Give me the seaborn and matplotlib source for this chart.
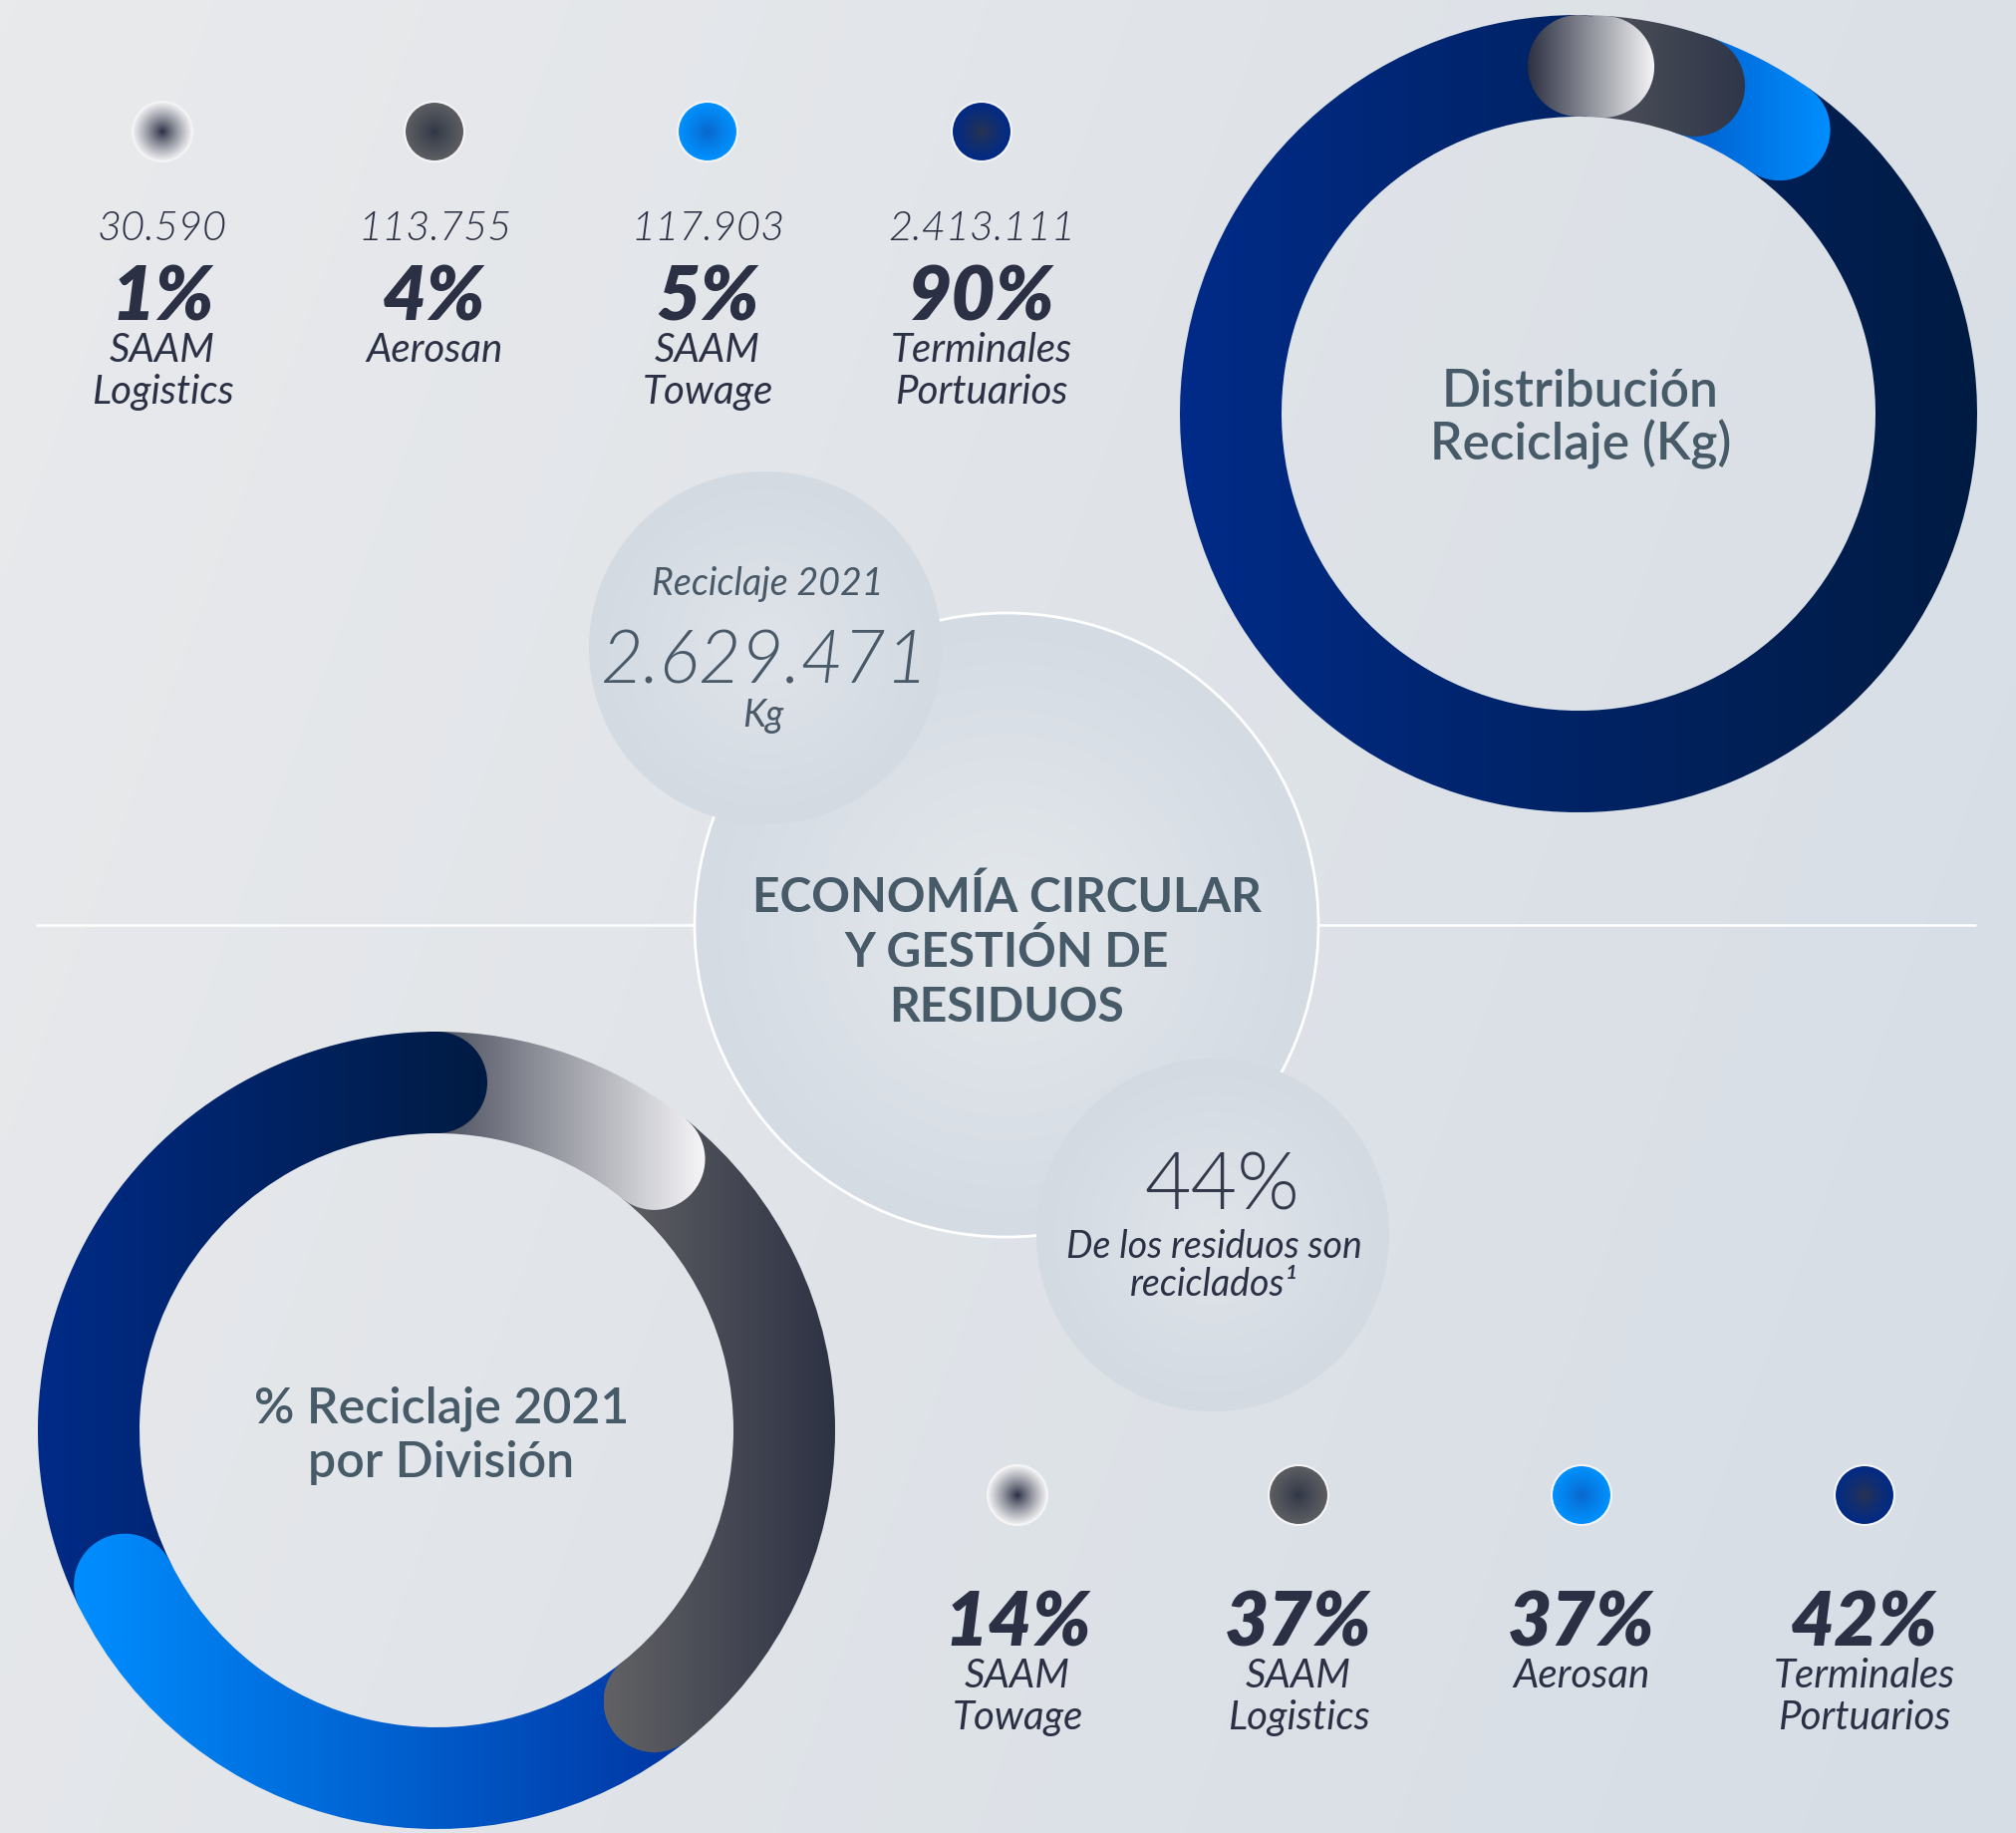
import numpy as np
import matplotlib
matplotlib.use("Agg")
import matplotlib.pyplot as plt
from matplotlib.patches import Wedge, Circle
import seaborn as sns

top_labels = ["SAAM\nLogistics", "Aerosan", "SAAM\nTowage", "Terminales\nPortuarios"]
top_kg = [30590, 113755, 117903, 2413111]
top_pct = [1, 4, 5, 90]

bottom_labels = ["SAAM\nTowage", "SAAM\nLogistics", "Aerosan", "Terminales\nPortuarios"]
bottom_pct = [14, 37, 37, 42]

total_kg = 2629471
recycled_pct = 44

# gradient stops (left colour, right colour) for each arc, same order as the data
top_arc_cols = [("#2c3041", "#f6f6f8"), ("#58595e", "#2f3649"),
                ("#0052c0", "#008eff"), ("#002b88", "#001b42")]
bottom_arc_cols = [("#2c3041", "#f6f6f8"), ("#626265", "#2d3244"),
                   ("#008eff", "#0033a0"), ("#002b88", "#001b42")]
# legend dots (centre colour, edge colour)
dot_cols = [("#262b40", "#f2f2f4"), ("#303646", "#5d5f63"),
            ("#0a66cc", "#0092ff"), ("#283350", "#002a88")]

NAVY = "#2b3044"
SLATE = "#465a68"

W, H = 2023, 1839
sns.set_style("white")
plt.rcParams["font.family"] = ["Lato", "DejaVu Sans"]

fig = plt.figure(figsize=(W / 100, H / 100), dpi=100)
ax = fig.add_axes([0, 0, 1, 1])

# background
yy, xx = np.mgrid[0:1:200j, 0:1:220j]
bg_cmap = sns.blend_palette(["#e9eaec", "#d6dde5"], as_cmap=True)
ax.imshow(0.75 * xx + 0.25 * yy, cmap=bg_cmap, extent=(0, W, H, 0),
          zorder=0, interpolation="bilinear", aspect="auto")


def grad_fill(patch, x0, x1, y0, y1, c0, c1, z):
    cmap = sns.blend_palette([c0, c1], as_cmap=True)
    patch.set_facecolor("none")
    patch.set_edgecolor("none")
    ax.add_patch(patch)
    im = ax.imshow(np.linspace(0, 1, 256)[None, :], cmap=cmap, extent=(x0, x1, y1, y0),
                   aspect="auto", zorder=z, interpolation="bilinear")
    im.set_clip_path(patch)


def radial_fill(cx, cy, r, c0, c1, z, power=1.0):
    n = 151
    gy, gx = np.mgrid[-1:1:n * 1j, -1:1:n * 1j]
    d = np.clip(np.hypot(gx, gy), 0, 1) ** power
    cmap = sns.blend_palette([c0, c1], as_cmap=True)
    circ = Circle((cx, cy), r, facecolor="none", edgecolor="none")
    ax.add_patch(circ)
    im = ax.imshow(d, cmap=cmap, vmin=0, vmax=1, extent=(cx - r, cx + r, cy + r, cy - r),
                   aspect="auto", zorder=z, interpolation="bilinear")
    im.set_clip_path(circ)


def donut(cx, cy, values, cols, r_out=400, width=102, start_cap=False):
    frac = np.array(values, dtype=float) / np.sum(values)
    edges = np.concatenate([[0], np.cumsum(frac)]) * 360
    rm = r_out - width / 2
    segs = []
    for i in range(len(values)):
        a0, a1 = edges[i], edges[i + 1]
        phi = np.radians(np.linspace(a0, a1, 300))
        xs = cx + rm * np.sin(phi)
        segs.append((a0, a1, xs.min() - width / 2, xs.max() + width / 2))
    # bands (angles clockwise from 12 o'clock; y axis points down)
    for i, (a0, a1, x0, x1) in enumerate(segs):
        w = Wedge((cx, cy), r_out, a0 - 90, a1 - 90, width=width)
        grad_fill(w, x0, x1, cy - r_out, cy + r_out, *cols[i], z=2)
    # rounded ends, last segment first so each end sits over the next arc
    for i in reversed(range(len(segs))):
        a0, a1, x0, x1 = segs[i]
        ends = [a1] + ([a0] if (start_cap and i == 0) else [])
        for a in ends:
            ex = cx + rm * np.sin(np.radians(a))
            ey = cy - rm * np.cos(np.radians(a))
            grad_fill(Circle((ex, ey), width / 2), x0, x1, cy - r_out, cy + r_out, *cols[i], z=3)


def fmt(v):
    return f"{v:,}".replace(",", ".")


def label_lines(x, y, s, gap=42, **kw):
    for k, line in enumerate(s.split("\n")):
        ax.text(x, y + k * gap, line, ha="center", va="baseline", **kw)


# divider line and central circles
ax.plot([36, 1983], [928, 928], color="white", lw=1.8, zorder=1, solid_capstyle="butt")
radial_fill(1010, 928, 313, "#e4e8ec", "#d4dbe3", z=1.5)
ax.add_patch(Circle((1010, 928), 313, facecolor="none", edgecolor="white", lw=2, zorder=1.6))
radial_fill(768, 650, 177, "#dfe4e9", "#d3dae2", z=1.7)
radial_fill(1217, 1239, 177, "#dfe4e9", "#d3dae2", z=1.7)

# donuts
donut(1584, 415, top_kg, top_arc_cols, start_cap=True)
donut(438, 1435, bottom_pct, bottom_arc_cols)

# top legend
top_x = [163, 436, 710, 985]
for i, x in enumerate(top_x):
    radial_fill(x, 132, 30, *dot_cols[i], z=5, power=0.85)
    ax.add_patch(Circle((x, 132), 30, facecolor="none", edgecolor="#f4f4f6", lw=1.5, zorder=6))
    ax.text(x, 241, fmt(top_kg[i]), ha="center", va="baseline", fontsize=30,
            fontstyle="italic", fontweight=300, color=NAVY)
    ax.text(x, 321, f"{top_pct[i]}%", ha="center", va="baseline", fontsize=55,
            fontstyle="italic", fontweight="heavy", color=NAVY)
    label_lines(x, 363, top_labels[i], fontsize=29, fontstyle="italic", color=NAVY)

# bottom legend
bottom_x = [1021, 1303, 1587, 1871]
for i, x in enumerate(bottom_x):
    radial_fill(x, 1500, 30, *dot_cols[i], z=5, power=0.85)
    ax.add_patch(Circle((x, 1500), 30, facecolor="none", edgecolor="#f4f4f6", lw=1.5, zorder=6))
    ax.text(x, 1652, f"{bottom_pct[i]}%", ha="center", va="baseline", fontsize=55,
            fontstyle="italic", fontweight="heavy", color=NAVY)
    label_lines(x, 1693, bottom_labels[i], fontsize=29, fontstyle="italic", color=NAVY)

# donut titles
label_lines(1586, 408, "Distribución\nReciclaje (Kg)", gap=53, fontsize=37,
            fontweight="semibold", color=SLATE, zorder=7)
label_lines(443, 1427, "% Reciclaje 2021\npor División", gap=55, fontsize=36,
            fontweight="semibold", color=SLATE, zorder=7)

# centre texts
ax.text(770, 597, "Reciclaje 2021", ha="center", va="baseline", fontsize=27,
        fontstyle="italic", color="#4a5968", zorder=7)
ax.text(767, 686, fmt(total_kg), ha="center", va="baseline", fontsize=53,
        fontstyle="italic", fontweight=300, color="#4a5968", zorder=7)
ax.text(766, 729, "Kg", ha="center", va="baseline", fontsize=27,
        fontstyle="italic", color="#4a5968", zorder=7)
label_lines(1010, 915, "ECONOMÍA CIRCULAR\nY GESTIÓN DE\nRESIDUOS", gap=55,
            fontsize=34.5, fontweight="bold", color=SLATE, zorder=7)
ax.text(1226, 1214, f"{recycled_pct}%", ha="center", va="baseline", fontsize=58,
        fontweight=300, color="#343a4c", zorder=7)
label_lines(1218, 1262, "De los residuos son\nreciclados¹", gap=38, fontsize=27,
            fontstyle="italic", color=NAVY, zorder=7)

ax.set_xlim(0, W)
ax.set_ylim(H, 0)
ax.set_aspect("auto")
ax.axis("off")
fig.savefig("out.png", dpi=100)
